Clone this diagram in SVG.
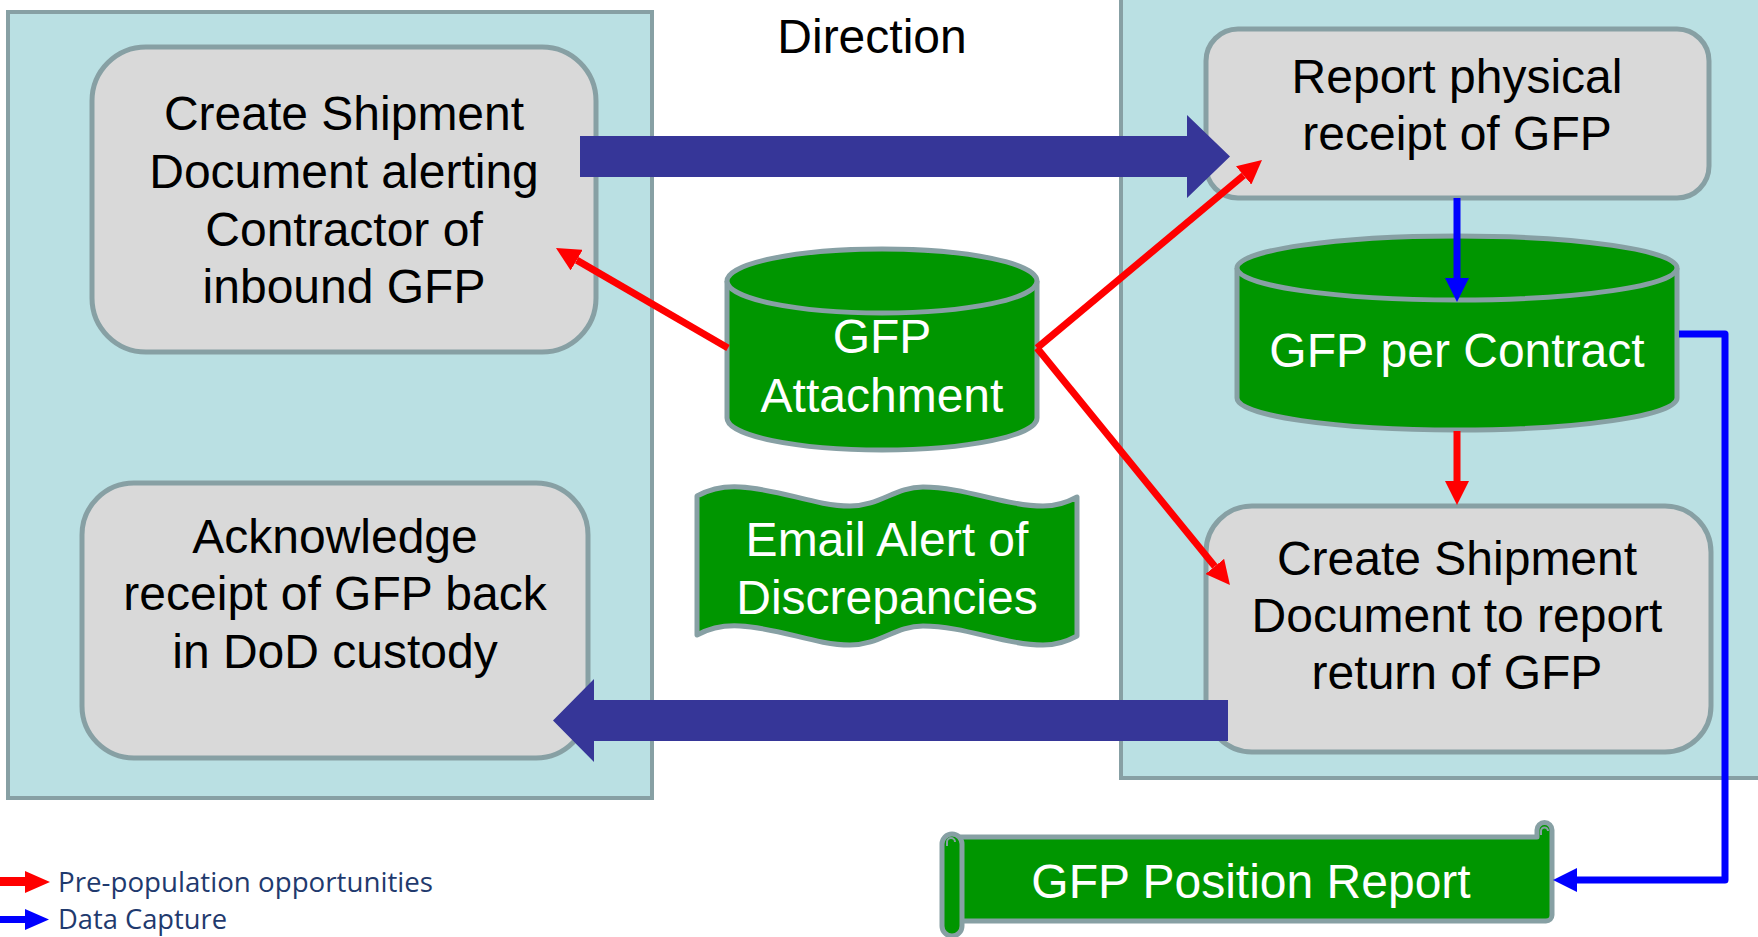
<svg xmlns="http://www.w3.org/2000/svg" width="1758" height="937" viewBox="0 0 1758 937">
<defs>
<style>
.panel{fill:#bae0e3;stroke:#87a0a4;stroke-width:4}
.box{fill:#d9d9d9;stroke:#87a0a4;stroke-width:5}
.green{fill:#009600;stroke:#87a0a4;stroke-width:5;stroke-linejoin:round}
.t{font-family:"Liberation Sans",Arial,sans-serif;font-size:48px;text-anchor:middle;fill:#000}
.w{fill:#fff}
.leg{font-family:"Open Sans","Noto Sans",sans-serif;font-size:26.5px;fill:#1f3a6e}
.red{stroke:#ff0000;stroke-width:7;fill:none}
.blue{stroke:#0000ff;stroke-width:7;fill:none}
.big{fill:#363698}
</style>
<marker id="ahR" markerUnits="userSpaceOnUse" markerWidth="24" markerHeight="24" refX="0" refY="12" orient="auto" viewBox="0 0 24 24">
<path d="M0,0 L24,12 L0,24 Z" fill="#ff0000"/>
</marker>
<marker id="ahB" markerUnits="userSpaceOnUse" markerWidth="24" markerHeight="24" refX="0" refY="12" orient="auto" viewBox="0 0 24 24">
<path d="M0,0 L24,12 L0,24 Z" fill="#0000ff"/>
</marker>
</defs>
<rect width="1758" height="937" fill="#fff"/>
<g id="panel-left"><rect class="panel" x="8" y="12" width="644" height="786"/></g>
<g id="panel-right"><rect class="panel" x="1121" y="-10" width="700" height="788"/></g>
<g id="direction-label"><text class="t" x="872" y="53">Direction</text></g>

<g id="node-create-shipment-inbound">
<rect class="box" x="92" y="47" width="504" height="305" rx="54" ry="54"/>
<text class="t" x="344" y="130">Create Shipment</text>
<text class="t" x="344" y="188">Document alerting</text>
<text class="t" x="344" y="246">Contractor of</text>
<text class="t" x="344" y="303">inbound GFP</text>
</g>
<g id="node-acknowledge">
<rect class="box" x="82" y="483" width="506" height="275" rx="52" ry="52"/>
<text class="t" x="335" y="553">Acknowledge</text>
<text class="t" x="335" y="610">receipt of GFP back</text>
<text class="t" x="335" y="668">in DoD custody</text>
</g>
<g id="node-report-receipt">
<rect class="box" x="1206" y="29" width="503" height="169" rx="32" ry="32"/>
<text class="t" x="1457" y="93">Report physical</text>
<text class="t" x="1457" y="150">receipt of GFP</text>
</g>
<g id="node-create-shipment-return">
<rect class="box" x="1206" y="506" width="505" height="246" rx="46" ry="46"/>
<text class="t" x="1457" y="575">Create Shipment</text>
<text class="t" x="1457" y="632">Document to report</text>
<text class="t" x="1457" y="689">return of GFP</text>
</g>
<g id="node-gfp-attachment">
<path class="green" d="M727,281 A155,32 0 0 1 1037,281 V418 A155,32 0 0 1 727,418 Z"/>
<path class="green" d="M727,281 A155,32 0 0 0 1037,281"/>
<text class="t w" x="882" y="353">GFP</text>
<text class="t w" x="882" y="412">Attachment</text>
</g>
<g id="node-gfp-per-contract">
<path class="green" d="M1237,268 A220,32 0 0 1 1677,268 V398 A220,32 0 0 1 1237,398 Z"/>
<path class="green" d="M1237,268 A220,32 0 0 0 1677,268"/>
<text class="t w" x="1457" y="367">GFP per Contract</text>
</g>
<g id="node-email-alert">
<path class="green" d="M697,496 C710,489 724,486 740,487 C780,489 815,506 850,506 C880,506 895,487 923,487 C965,487 1005,506 1043,506 C1058,506 1068,502 1077,497 V636 C1068,641 1058,645 1043,645 C1005,645 965,626 923,626 C895,626 880,645 850,645 C815,645 780,628 740,626 C724,625 710,628 697,635 Z"/>
<text class="t w" x="887" y="556">Email Alert of</text>
<text class="t w" x="887" y="614">Discrepancies</text>
</g>
<g id="node-gfp-position-report">
<path class="green" d="M1537,837 V830 A7.5,7.5 0 0 1 1552,830 V915 A6,6 0 0 1 1546,921 H952 V837 Z"/>
<path d="M1541,835 V831 A3.5,3.5 0 0 1 1548,831" fill="none" stroke="#87a0a4" stroke-width="2"/>
<rect class="green" x="942" y="834" width="20" height="102" rx="10" ry="10"/>
<path d="M947,846 V842 A4,4 0 0 1 955,842" fill="none" stroke="#87a0a4" stroke-width="2"/>
<text class="t w" x="1251" y="898">GFP Position Report</text>
</g>

<g id="connectors">
<path class="big" d="M580,136 H1187 V115 L1230,156.5 L1187,198 V177 H580 Z"/>
<path class="big" d="M1228,700 H594 V679 L553,720.5 L594,762 V741 H1228 Z"/>
<path class="red" d="M728,348 L576.7,260.1" marker-end="url(#ahR)"/>
<path class="red" d="M1037,348 L1243.6,175.4" marker-end="url(#ahR)"/>
<path class="red" d="M1037,348 L1214.8,566.4" marker-end="url(#ahR)"/>
<path class="blue" d="M1457,198 V278" stroke-width="8" marker-end="url(#ahB)"/>
<path class="red" d="M1457,431 V481" stroke-width="8" marker-end="url(#ahR)"/>
<path class="blue" d="M1679,334 H1725 V880 H1577" stroke-linejoin="round" marker-end="url(#ahB)"/>
</g>

<g id="legend">
<path d="M0,877 H25 V871 L50,882 L25,893 V886 H0 Z" fill="#ff0000"/>
<text class="leg" x="58" y="892" textLength="375" lengthAdjust="spacingAndGlyphs">Pre-population opportunities</text>
<path d="M0,916 H25 V909 L49,919.5 L25,930 V923 H0 Z" fill="#0000ff"/>
<text class="leg" x="58" y="929" textLength="169" lengthAdjust="spacingAndGlyphs">Data Capture</text>
</g>
</svg>
